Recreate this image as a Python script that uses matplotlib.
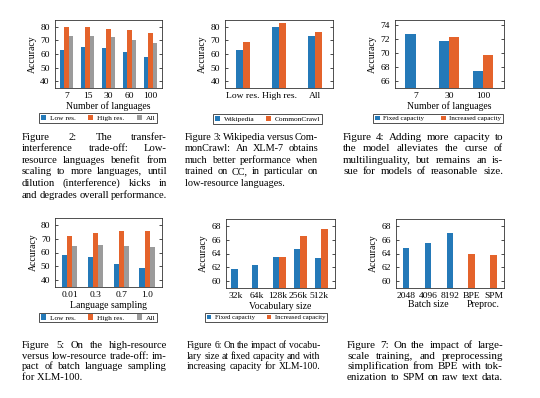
import numpy as np
import matplotlib
matplotlib.use("Agg")
import matplotlib.pyplot as plt
from matplotlib.font_manager import FontProperties

# ---- data ----
n_langs = ["7", "15", "30", "60", "100"]
fig2_low = [63.0, 65.3, 64.0, 61.0, 57.7]
fig2_high = [80.0, 79.5, 78.5, 77.5, 75.0]
fig2_all = [73.0, 73.0, 72.0, 70.0, 67.7]

corpus_groups = ["Low res.", "High res.", "All"]
fig3_wiki = [63.0, 80.0, 73.0]
fig3_cc = [69.0, 82.5, 76.0]

cap_langs = ["7", "30", "100"]
fig4_fixed = [72.7, 71.8, 67.5]
fig4_increased = [np.nan, 72.3, 69.7]

sampling = ["0.01", "0.3", "0.7", "1.0"]
fig5_low = [58.2, 56.7, 51.4, 49.0]
fig5_high = [72.3, 74.2, 75.6, 75.6]
fig5_all = [65.0, 65.5, 65.0, 64.3]

vocab = ["32k", "64k", "128k", "256k", "512k"]
fig6_fixed = [61.8, 62.4, 63.5, 64.7, 63.3]
fig6_increased = [np.nan, np.nan, 63.5, 66.5, 67.6]

fig7_labels = ["2048", "4096", "8192", "BPE", "SPM"]
fig7_values = [64.75, 65.5, 66.9, 63.9, 63.8]
fig7_kind = ["batch", "batch", "batch", "prep", "prep"]

# caption lines; a trailing "|" marks a short last line (not justified)
captions = {
    "fig2": ["Figure 2: The transfer-",
             "interference trade-off: Low-",
             "resource languages benefit from",
             "scaling to more languages, until",
             "dilution (interference) kicks in",
             "and degrades overall performance."],
    "fig3": ["Figure 3: Wikipedia versus Com-",
             "monCrawl: An XLM-7 obtains",
             "much better performance when",
             "trained on CC, in particular on",
             "low-resource languages.|"],
    "fig4": ["Figure 4: Adding more capacity to",
             "the model alleviates the curse of",
             "multilinguality, but remains an is-",
             "sue for models of reasonable size."],
    "fig5": ["Figure 5: On the high-resource",
             "versus low-resource trade-off: im-",
             "pact of batch language sampling",
             "for XLM-100.|"],
    "fig6": ["Figure 6: On the impact of vocabu-",
             "lary size at fixed capacity and with",
             "increasing capacity for XLM-100."],
    "fig7": ["Figure 7: On the impact of large-",
             "scale training, and preprocessing",
             "simplification from BPE with tok-",
             "enization to SPM on raw text data."],
}

BLUE = "#2479b8"
ORANGE = "#e4632b"
GRAY = "#9b9b9b"
SERIF = ["Liberation Serif", "DejaVu Serif"]
W, H = 540, 398

plt.rcParams["font.family"] = SERIF
plt.rcParams["font.size"] = 6.5

fig = plt.figure(figsize=(W / 100, H / 100), dpi=100)


def px_axes(l, t, r, b):
    return fig.add_axes([l / W, 1 - b / H, (r - l) / W, (b - t) / H])


def style(ax, ylim, yticks):
    ax.set_ylim(*ylim)
    ax.set_yticks(yticks)
    ax.tick_params(axis="y", direction="in", length=2, width=0.5,
                   right=True, pad=3.5, labelsize=6.8)
    ax.tick_params(axis="x", direction="in", length=0, pad=3,
                   labelsize=6.8)
    for sp in ax.spines.values():
        sp.set_linewidth(0.6)
        sp.set_color("#333333")
    ax.set_ylabel("Accuracy", fontsize=7, labelpad=2.5)


def legend(ax, handles, labels, l, t, r, b, size=5.3):
    leg = ax.legend(handles, labels, loc="center",
                    bbox_to_anchor=(l / W, 1 - b / H, (r - l) / W, (b - t) / H),
                    bbox_transform=fig.transFigure, mode="expand",
                    ncol=len(labels), fontsize=size, frameon=True,
                    fancybox=False, edgecolor="black", borderpad=0.25,
                    handlelength=0.7, handleheight=0.7, handletextpad=0.5,
                    borderaxespad=0)
    leg.get_frame().set_linewidth(0.6)


# Figure 2
ax = px_axes(54.7, 19.7, 162, 88)
x = np.arange(len(n_langs))
w = 0.2
b1 = ax.bar(x - w, fig2_low, w, color=BLUE)
b2 = ax.bar(x, fig2_high, w, color=ORANGE)
b3 = ax.bar(x + w, fig2_all, w, color=GRAY)
ax.set_xticks(x, n_langs)
ax.set_xlim(-0.56, len(x) - 0.45)
style(ax, (35, 85), [40, 50, 60, 70, 80])
ax.set_xlabel("Number of languages", fontsize=7, labelpad=1)
legend(ax, [b1, b2, b3], ["Low res.", "High res.", "All"], 39, 113, 157, 123)

# Figure 3
ax = px_axes(225, 19.7, 333, 88)
x = np.arange(len(corpus_groups))
b1 = ax.bar(x - 0.1, fig3_wiki, 0.2, color=BLUE)
b2 = ax.bar(x + 0.1, fig3_cc, 0.2, color=ORANGE)
ax.set_xticks(x, corpus_groups)
ax.set_xlim(-0.5, 2.5)
style(ax, (35, 85), [40, 50, 60, 70, 80])
legend(ax, [b1, b2], ["Wikipedia", "CommonCrawl"], 213, 113, 322, 125)

# Figure 4
ax = px_axes(394.7, 19.7, 504, 88)
x = np.arange(len(cap_langs))
b1 = ax.bar(x - 0.15, fig4_fixed, 0.3, color=BLUE)
b2 = ax.bar(x + 0.15, fig4_increased, 0.3, color=ORANGE)
ax.set_xticks(x, cap_langs)
ax.set_xlim(-0.62, 2.62)
style(ax, (65, 74.8), [66, 68, 70, 72, 74])
ax.set_xlabel("Number of languages", fontsize=7, labelpad=1)
legend(ax, [b1, b2], ["Fixed capacity", "Increased capacity"], 373, 113, 503, 124, 5.0)

# Figure 5
ax = px_axes(55.3, 218, 162, 287)
x = np.arange(len(sampling))
b1 = ax.bar(x - w, fig5_low, w, color=BLUE)
b2 = ax.bar(x, fig5_high, w, color=ORANGE)
b3 = ax.bar(x + w, fig5_all, w, color=GRAY)
ax.set_xticks(x, sampling)
ax.set_xlim(-0.55, len(x) - 0.43)
style(ax, (35, 85), [40, 50, 60, 70, 80])
ax.set_xlabel("Language sampling", fontsize=7, labelpad=1)
legend(ax, [b1, b2, b3], ["Low res.", "High res.", "All"], 39, 312, 157, 323)

# Figure 6
ax = px_axes(226, 219, 335, 288)
x = np.arange(len(vocab))
b1 = ax.bar(x - 0.05, fig6_fixed, 0.3, color=BLUE)
b2 = ax.bar(x + 0.25, fig6_increased, 0.3, color=ORANGE)
ax.set_xticks(x, vocab)
ax.set_xlim(-0.45, 4.75)
style(ax, (59, 69), [60, 62, 64, 66, 68])
ax.set_xlabel("Vocabulary size", fontsize=7, labelpad=1)
legend(ax, [b1, b2], ["Fixed capacity", "Increased capacity"], 205, 312, 327, 323, 4.9)

# Figure 7
ax = px_axes(395.7, 219, 504, 288)
x = np.arange(len(fig7_labels))
colors = [BLUE if k == "batch" else ORANGE for k in fig7_kind]
ax.bar(x, fig7_values, 0.3, color=colors)
ax.set_xticks(x, fig7_labels)
ax.set_xlim(-0.47, 4.47)
style(ax, (59, 69), [60, 62, 64, 66, 68])
tr = ax.get_xaxis_transform()
ax.text(1, -0.245, "Batch size", transform=tr, ha="center", va="center", fontsize=7)
ax.text(3.5, -0.245, "Preproc.", transform=tr, ha="center", va="center", fontsize=7)

# ---- justified captions ----
renderer = fig.canvas.get_renderer()


def text_w(s, prop):
    return renderer.get_text_width_height_descent(s, prop, ismath=False)[0]


def caption(lines, x0, x1, y0, step, size=7.6):
    prop = FontProperties(family=SERIF, size=size)
    for k, line in enumerate(lines):
        y = 1 - (y0 + k * step) / H
        words = line.rstrip("|").split()
        if line.endswith("|") or len(words) == 1:
            fig.text(x0 / W, y, line.rstrip("|"), fontproperties=prop, va="baseline")
            continue
        widths = [text_w(wd, prop) for wd in words]
        gap = max(1.2, (x1 - x0 - sum(widths)) / (len(words) - 1))
        xp = x0
        for wd, ww in zip(words, widths):
            fig.text(xp / W, y, wd, fontproperties=prop, va="baseline")
            xp += ww + gap


caption(captions["fig2"], 22, 167, 139.5, 11.66, 7.7)
caption(captions["fig3"], 185, 318, 139.5, 11.66, 7.4)
caption(captions["fig4"], 343, 503, 139.5, 11.66, 7.9)
caption(captions["fig5"], 22, 167, 348, 10.7, 7.6)
caption(captions["fig6"], 187, 320, 348, 10.7, 6.9)
caption(captions["fig7"], 347, 503, 348, 10.7, 7.9)

fig.savefig("out.png", dpi=100)
